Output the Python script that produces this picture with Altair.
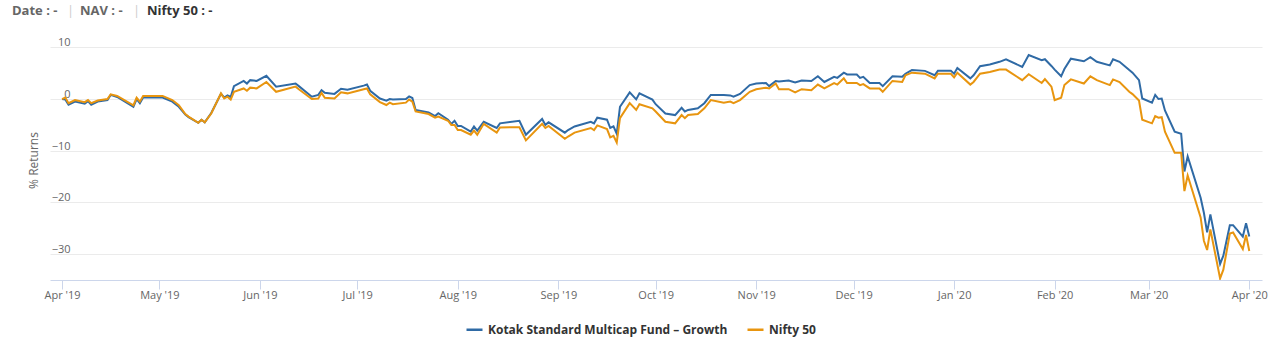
import altair as alt
import pandas as pd

FUND = "Kotak Standard Multicap Fund – Growth"
NIFTY = "Nifty 50"

dates = [
    "2019-04-01", "2019-04-02", "2019-04-03", "2019-04-05", "2019-04-08", "2019-04-09",
    "2019-04-10", "2019-04-12", "2019-04-15", "2019-04-16", "2019-04-18", "2019-04-23",
    "2019-04-24", "2019-04-25", "2019-04-26", "2019-05-02", "2019-05-05", "2019-05-07",
    "2019-05-09", "2019-05-10", "2019-05-13", "2019-05-14", "2019-05-15", "2019-05-17",
    "2019-05-20", "2019-05-21", "2019-05-22", "2019-05-23", "2019-05-24", "2019-05-27",
    "2019-05-28", "2019-05-29", "2019-05-31", "2019-06-03", "2019-06-06", "2019-06-12",
    "2019-06-13", "2019-06-17", "2019-06-19", "2019-06-20", "2019-06-21", "2019-06-24",
    "2019-06-26", "2019-06-28", "2019-07-03", "2019-07-04", "2019-07-05", "2019-07-08",
    "2019-07-10", "2019-07-11", "2019-07-12", "2019-07-16", "2019-07-17", "2019-07-18",
    "2019-07-19", "2019-07-23", "2019-07-25", "2019-07-26", "2019-07-29", "2019-07-30",
    "2019-07-31", "2019-08-01", "2019-08-02", "2019-08-05", "2019-08-06", "2019-08-07",
    "2019-08-09", "2019-08-13", "2019-08-14", "2019-08-20", "2019-08-22", "2019-08-27",
    "2019-08-28", "2019-08-29", "2019-09-03", "2019-09-04", "2019-09-06", "2019-09-11",
    "2019-09-12", "2019-09-13", "2019-09-16", "2019-09-17", "2019-09-18", "2019-09-19",
    "2019-09-20", "2019-09-23", "2019-09-25", "2019-09-26", "2019-09-30", "2019-10-01",
    "2019-10-04", "2019-10-07", "2019-10-09", "2019-10-10", "2019-10-11", "2019-10-14",
    "2019-10-16", "2019-10-18", "2019-10-22", "2019-10-24", "2019-10-25", "2019-10-27",
    "2019-10-30", "2019-11-01", "2019-11-04", "2019-11-05", "2019-11-07", "2019-11-08",
    "2019-11-11", "2019-11-13", "2019-11-15", "2019-11-18", "2019-11-20", "2019-11-22",
    "2019-11-25", "2019-11-26", "2019-11-28", "2019-11-29", "2019-12-02", "2019-12-03",
    "2019-12-04", "2019-12-06", "2019-12-09", "2019-12-10", "2019-12-13", "2019-12-16",
    "2019-12-17", "2019-12-19", "2019-12-23", "2019-12-26", "2019-12-27", "2019-12-31",
    "2020-01-01", "2020-01-02", "2020-01-06", "2020-01-07", "2020-01-09", "2020-01-12",
    "2020-01-15", "2020-01-17", "2020-01-22", "2020-01-24", "2020-01-28", "2020-01-29",
    "2020-01-31", "2020-02-01", "2020-02-03", "2020-02-04", "2020-02-06", "2020-02-10",
    "2020-02-12", "2020-02-14", "2020-02-18", "2020-02-19", "2020-02-21", "2020-02-24",
    "2020-02-25", "2020-02-27", "2020-02-28", "2020-03-02", "2020-03-03", "2020-03-04",
    "2020-03-05", "2020-03-06", "2020-03-09", "2020-03-11", "2020-03-12", "2020-03-13",
    "2020-03-17", "2020-03-18", "2020-03-19", "2020-03-20", "2020-03-23", "2020-03-24",
    "2020-03-26", "2020-03-27", "2020-03-30", "2020-03-31", "2020-04-01",
]

fund_returns = [
    0.0, -0.1, -1.1, -0.5, -0.9, -0.4,
    -1.1, -0.5, -0.2, 0.8, 0.4, -1.5,
    0.0, -0.8, 0.3, 0.3, -0.5, -1.5,
    -3.0, -3.5, -4.6, -4.0, -4.5, -2.7,
    1.0, 0.3, 0.7, 0.4, 2.5, 3.5,
    3.0, 3.65, 3.5, 4.5, 2.4, 3.0,
    2.5, 0.45, 0.8, 1.7, 1.2, 1.0,
    2.0, 1.8, 2.6, 2.8, 1.6, 0.1,
    -0.3, 0.0, -0.1, 0.0, 0.5, 0.2,
    -2.1, -2.6, -3.3, -2.75, -4.0, -4.8,
    -4.2, -5.2, -5.2, -6.3, -5.3, -6.1,
    -4.4, -5.6, -4.7, -4.2, -6.9, -3.85,
    -5.0, -4.5, -6.5, -6.0, -5.3, -4.4,
    -4.7, -3.6, -4.0, -5.6, -5.3, -6.7,
    -1.5, 1.3, -0.06, 1.1, -0.1, -1.0,
    -2.8, -3.1, -1.7, -2.4, -2.1, -1.8,
    -0.8, 0.8, 0.8, 0.7, 0.45, 1.0,
    2.7, 3.0, 3.1, 2.5, 3.5, 3.4,
    3.6, 3.2, 3.6, 3.5, 4.4, 3.3,
    4.3, 4.1, 5.1, 4.75, 4.75, 4.1,
    4.3, 3.1, 3.1, 2.5, 4.4, 4.3,
    4.9, 5.6, 5.45, 4.6, 5.45, 5.45,
    4.9, 6.0, 4.0, 4.6, 6.35, 6.7,
    7.2, 7.7, 6.2, 8.5, 7.5, 7.7,
    6.4, 5.7, 4.4, 5.8, 7.8, 7.3,
    8.1, 7.2, 6.5, 7.7, 7.2, 5.6,
    5.1, 3.65, 0.1, -0.7, 0.8, 0.0,
    0.1, -2.2, -6.3, -6.7, -14.0, -11.1,
    -19.1, -22.0, -25.8, -22.3, -31.9, -30.3,
    -24.4, -24.4, -26.6, -24.0, -26.6,
]

nifty_returns = [
    0.0, 0.3, -0.8, -0.2, -0.6, -0.2,
    -0.8, -0.3, 0.0, 0.9, 0.6, -1.2,
    0.25, -0.5, 0.6, 0.6, -0.2, -1.2,
    -2.9, -3.4, -4.6, -4.0, -4.5, -2.8,
    1.1, 0.1, 0.45, -0.1, 1.4, 2.05,
    1.6, 2.2, 2.05, 3.3, 1.4, 2.4,
    1.9, 0.0, 0.1, 1.2, 0.25, 0.1,
    1.3, 1.1, 1.9, 2.05, 0.9, -0.6,
    -1.15, -0.7, -1.0, -0.7, -0.1, -0.5,
    -2.4, -2.9, -3.6, -3.4, -4.2, -5.0,
    -5.0, -6.0, -6.0, -6.9, -6.1, -6.9,
    -4.8, -6.5, -5.5, -5.45, -8.0, -4.8,
    -5.6, -5.2, -7.7, -7.25, -6.5, -5.6,
    -6.0, -5.1, -5.8, -7.4, -7.1, -8.4,
    -3.7, -0.8, -2.1, -1.0, -1.8, -2.4,
    -4.4, -4.7, -3.1, -3.7, -3.1, -2.9,
    -1.8, -0.2, -0.7, -0.5, -0.8, -0.2,
    1.4, 1.9, 2.2, 2.05, 3.0, 1.9,
    1.9, 1.3, 1.9, 1.7, 2.8, 2.05,
    3.1, 2.8, 4.0, 3.1, 3.1, 2.7,
    2.9, 2.05, 2.05, 1.4, 3.5, 3.3,
    4.6, 5.1, 4.9, 4.0, 4.9, 4.9,
    4.2, 5.1, 2.8, 3.3, 4.9, 5.25,
    5.7, 5.7, 3.65, 4.8, 3.1, 3.85,
    2.4, -0.2, 0.25, 2.7, 3.8, 3.0,
    4.4, 3.65, 2.7, 3.8, 3.3, 1.4,
    0.95, -0.3, -4.0, -4.7, -3.3, -3.6,
    -3.5, -6.3, -10.4, -10.4, -17.8, -14.8,
    -22.9, -27.4, -29.2, -25.2, -34.7, -33.0,
    -26.0, -25.8, -29.0, -26.3, -29.4,
]

y_ticks = [-30, -20, -10, 0, 10]
month_ticks = [(2019, m) for m in range(4, 13)] + [(2020, m) for m in range(1, 5)]

BLUE = "#2f6aa5"
ORANGE = "#e8950f"
FONT = "Open Sans"

n = len(dates)
df = pd.DataFrame({
    "date": dates + dates,
    "series": [FUND] * n + [NIFTY] * n,
    "value": fund_returns + nifty_returns,
})

x_scale = alt.Scale(
    type="utc",
    domain=[
        alt.DateTime(year=2019, month=3, date=28, hours=7, utc=True),
        alt.DateTime(year=2020, month=4, date=4, hours=22, utc=True),
    ],
)

lines = alt.Chart(df).mark_line(strokeWidth=2, clip=True).encode(
    x=alt.X(
        "date:T",
        scale=x_scale,
        axis=alt.Axis(
            title=None,
            values=[alt.DateTime(year=y, month=m, date=1, utc=True) for y, m in month_ticks],
            format="%b '%y",
            labelFont=FONT,
            labelFontSize=11,
            labelColor="#666666",
            domainColor="#ccd6eb",
            tickColor="#ccd6eb",
            tickSize=9,
            labelPadding=0,
            grid=False,
            labelFlush=False,
            labelOverlap=False,
        ),
    ),
    y=alt.Y(
        "value:Q",
        scale=alt.Scale(domain=[-35, 12], nice=False, zero=False),
        axis=alt.Axis(
            values=y_ticks,
            title="% Returns",
            titleFont=FONT,
            titleFontSize=12,
            titleFontWeight="normal",
            titleColor="#666666",
            titleX=-17,
            titleY=123,
            titleAngle=270,
            titleAlign="center",
            titleBaseline="middle",
            labelFont=FONT,
            labelFontSize=11,
            labelColor="#666666",
            labelAlign="right",
            labelBaseline="alphabetic",
            labelPadding=-20,
            labelOffset=-1.5,
            ticks=False,
            tickSize=0,
            domain=False,
            gridColor="#ebebeb",
            gridWidth=1,
        ),
    ),
    color=alt.Color(
        "series:N",
        scale=alt.Scale(domain=[FUND, NIFTY], range=[BLUE, ORANGE]),
        legend=alt.Legend(
            title=None,
            orient="none",
            direction="horizontal",
            legendX=415,
            legendY=283,
            symbolType="stroke",
            symbolSize=256,
            symbolStrokeWidth=2.5,
            labelFont=FONT,
            labelFontSize=12,
            labelFontWeight="bold",
            labelColor="#333333",
            labelOffset=4,
            columnPadding=14,
            padding=0,
            labelLimit=400,
        ),
    ),
)

one = pd.DataFrame({"k": [0]})


def header(text, x, color, weight="bold"):
    return alt.Chart(one).mark_text(
        align="left", baseline="alphabetic", font=FONT, fontSize=13,
        fontWeight=weight, color=color,
    ).encode(x=alt.value(x), y=alt.value(-22), text=alt.value(text))


chart = alt.layer(
    lines,
    header("Date : -", -38, "#666666"),
    header("|", 17, "#cccccc", "normal"),
    header("NAV : -", 30, "#666666"),
    header("|", 83, "#cccccc", "normal"),
    header("Nifty 50 : -", 97, "#333333"),
).properties(
    width=1212,
    height=243,
    padding={"left": 50, "top": 37, "right": 19, "bottom": 72},
    autosize="none",
).configure_view(stroke=None)

chart.save("out.html", embed_options={"renderer": "svg", "actions": False})
